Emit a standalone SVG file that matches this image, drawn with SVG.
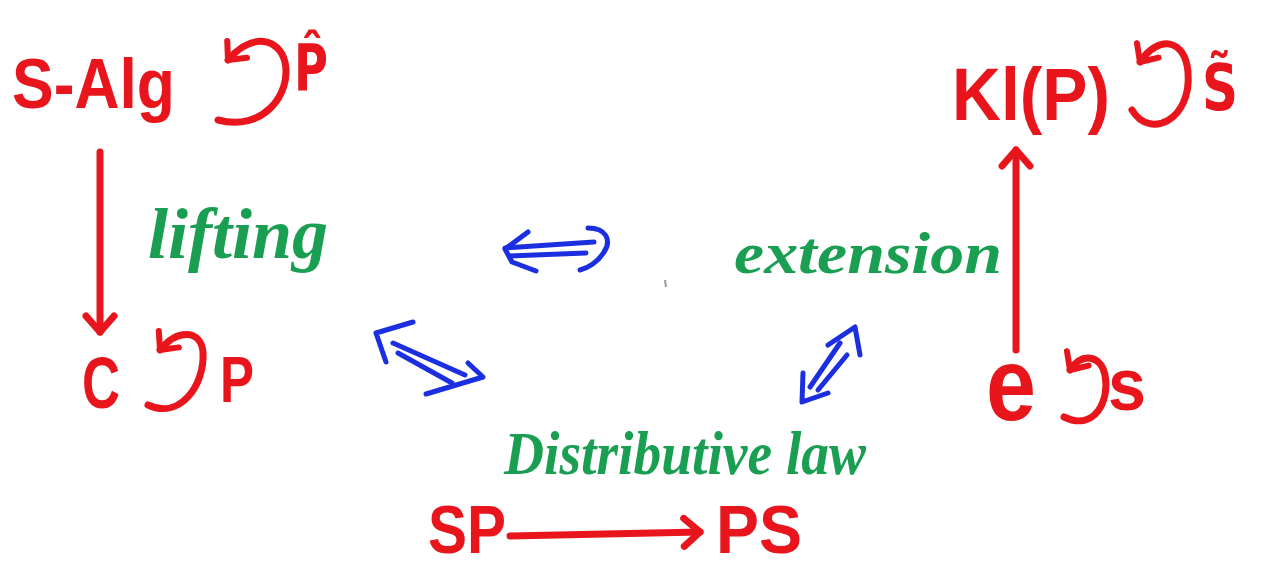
<svg xmlns="http://www.w3.org/2000/svg" width="1264" height="569" viewBox="0 0 1264 569">
<defs>
<style>
.red{fill:#e8161c;font-family:"Liberation Sans","DejaVu Sans",sans-serif;font-weight:bold}
.redd{fill:#e8161c;font-family:"DejaVu Sans","Liberation Sans",sans-serif;font-weight:bold}
.green{fill:#1a9e52;font-family:"Liberation Serif","DejaVu Serif",serif;font-style:italic;font-weight:bold}
.rl{fill:none;stroke:#e8161c;stroke-width:7;stroke-linecap:round;stroke-linejoin:round}
.bl{fill:none;stroke:#1b2fe0;stroke-width:5;stroke-linecap:round;stroke-linejoin:round}
</style>
<marker id="rhead" markerUnits="userSpaceOnUse" markerWidth="40" markerHeight="40" refX="20" refY="20" orient="auto" viewBox="0 0 40 40">
<path d="M4,6 L20,20 L4,34" fill="none" stroke="#e8161c" stroke-width="7" stroke-linecap="round" stroke-linejoin="round"/>
</marker>
<marker id="lhead" markerUnits="userSpaceOnUse" markerWidth="34" markerHeight="34" refX="17" refY="17" orient="auto" viewBox="0 0 34 34">
<path d="M3,4 L17,17 L3,30" fill="none" stroke="#e8161c" stroke-width="6" stroke-linecap="round" stroke-linejoin="round"/>
</marker>
</defs>
<rect width="1264" height="569" fill="#ffffff"/>

<g id="node-salg">
<text class="red" x="12" y="108" font-size="70" textLength="163" lengthAdjust="spacingAndGlyphs">S-Alg</text>
<path class="rl" d="M218,120 C262,132 292,95 285,62 C279,38 252,32 228,60" marker-end="url(#lhead)"/>
<text class="redd" x="294" y="90" font-size="64" textLength="34" lengthAdjust="spacingAndGlyphs">P̂</text>
</g>

<g id="node-klp">
<text class="red" x="952" y="120" font-size="74" textLength="158" lengthAdjust="spacingAndGlyphs">Kl(P)</text>
<path class="rl" d="M1132,110 C1150,140 1192,120 1188,72 C1185,38 1158,35 1140,62" marker-end="url(#lhead)"/>
<text class="redd" x="1202" y="110" font-size="64" textLength="36" lengthAdjust="spacingAndGlyphs">S̃</text>
</g>

<g id="node-c">
<text class="red" x="82" y="408" font-size="72" textLength="38" lengthAdjust="spacingAndGlyphs">C</text>
<path class="rl" d="M148,405 C180,420 205,385 203,352 C201,330 178,328 160,350" marker-end="url(#lhead)"/>
<text class="red" x="220" y="402" font-size="64" textLength="34" lengthAdjust="spacingAndGlyphs">P</text>
</g>

<g id="node-e">
<text class="red" x="986" y="420" font-size="104" textLength="50" lengthAdjust="spacingAndGlyphs">e</text>
<path class="rl" d="M1064,417 C1095,432 1110,400 1105,375 C1101,355 1082,352 1070,370" marker-end="url(#lhead)"/>
<text class="red" x="1108" y="410" font-size="74" textLength="38" lengthAdjust="spacingAndGlyphs">s</text>
</g>

<g id="node-sp">
<text class="red" x="428" y="553" font-size="68" textLength="78" lengthAdjust="spacingAndGlyphs">SP</text>
</g>
<g id="node-ps">
<text class="red" x="716" y="553" font-size="68" textLength="86" lengthAdjust="spacingAndGlyphs">PS</text>
</g>

<g id="label-lifting">
<text class="green" x="148" y="258" font-size="72" textLength="180" lengthAdjust="spacingAndGlyphs">lifting</text>
</g>
<g id="label-extension">
<text class="green" x="734" y="273" font-size="60" textLength="268" lengthAdjust="spacingAndGlyphs">extension</text>
</g>
<g id="label-distributive">
<text class="green" x="504" y="474" font-size="62" textLength="362" lengthAdjust="spacingAndGlyphs">Distributive law</text>
</g>

<g id="connectors">
<path class="rl" d="M100,152 L100,332" marker-end="url(#rhead)"/>
<path class="rl" d="M1016,350 L1016,150" marker-end="url(#rhead)"/>
<path class="rl" d="M510,536 L700,532" marker-end="url(#rhead)"/>

<g class="blue-double">
<path class="bl" d="M505,248 L594,242 M509,256 L586,253"/>
<path class="bl" d="M528,232 L505,249 L512,262 L536,271"/>
<path class="bl" d="M588,228 C606,228 612,240 604,252 C598,262 588,268 580,270"/>
</g>
<g class="blue-double">
<path class="bl" d="M393,343 L465,375 M398,353 L452,383"/>
<path class="bl" d="M413,322 L376,333 L386,362"/>
<path class="bl" d="M468,363 L483,377 L426,394"/>
</g>
<g class="blue-double">
<path class="bl" d="M840,343 L810,387 M847,355 L818,390"/>
<path class="bl" d="M828,345 L855,327 L860,355"/>
<path class="bl" d="M803,373 L802,402 L828,393"/>
</g>
</g>
<path d="M665,280 L666,287" stroke="#999" stroke-width="2" fill="none"/>
</svg>
